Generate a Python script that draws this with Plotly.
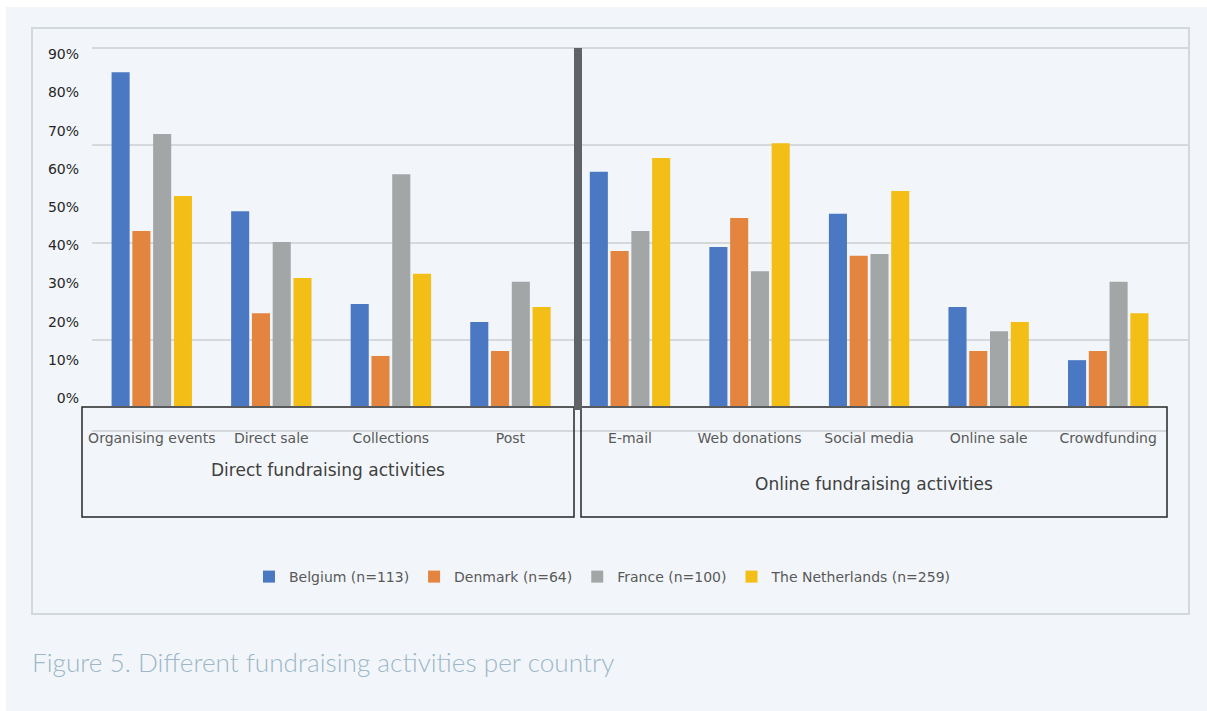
import plotly.graph_objects as go

# Survey shares (%) of organisations using each fundraising activity
activities = ["Organising events", "Direct sale", "Collections", "Post",
              "E-mail", "Web donations", "Social media", "Online sale", "Crowdfunding"]
belgium = [87.4, 51.0, 26.7, 22.0, 61.3, 41.6, 50.3, 25.9, 12.0]
denmark = [45.8, 24.3, 13.1, 14.4, 40.6, 49.2, 39.3, 14.4, 14.4]
france = [71.2, 42.9, 60.7, 32.5, 45.8, 35.3, 39.8, 19.6, 32.5]
netherlands = [55.0, 33.5, 34.6, 25.9, 64.9, 68.8, 56.3, 22.0, 24.3]

series_names = ["Belgium (n=113)", "Denmark (n=64)", "France (n=100)", "The Netherlands (n=259)"]
series_values = [belgium, denmark, france, netherlands]
series_colors = ["#4a78c2", "#e3843f", "#a3a6a7", "#f3be15"]

tick_values = [0, 10, 20, 30, 40, 50, 60, 70, 80, 90]
tick_labels = [f"{v}%" for v in tick_values]

group_titles = ["Direct fundraising activities", "Online fundraising activities"]

W, H = 1207, 711
PL, PR, PT, PB = 92, 1188, 46, 406  # plot area in pixels
PX_PER_PCT = 3.82                   # vertical scale of the bars


def px(x):
    return (x - PL) / (PR - PL)


def py(y):
    return (PB - y) / (PB - PT)


# horizontal grid: every 20 units of a secondary scale, top line at y=47.5
GRID_BOTTOM = 6.5
GRID_SCALE = (PB - 47.5) / (80 - GRID_BOTTOM)
GRID_TOP = GRID_BOTTOM + (PB - PT) / GRID_SCALE

BG = "#f2f6fa"
TEXT_FONT = "DejaVu Sans"

fig = go.Figure()
for name, vals, col in zip(series_names, series_values, series_colors):
    fig.add_trace(go.Bar(x=activities, y=vals, name=name, marker_color=col,
                         marker_line_width=0))

# empty trace carrying the secondary axis used for the horizontal grid
fig.add_trace(go.Scatter(x=[], y=[], yaxis="y2", showlegend=False, hoverinfo="skip"))

shapes = []
# white edge strips of the page
shapes.append(dict(type="rect", xref="paper", yref="paper", x0=px(0), x1=px(W),
                   y0=py(0), y1=py(7), fillcolor="white", line_width=0, layer="below"))
shapes.append(dict(type="rect", xref="paper", yref="paper", x0=px(0), x1=px(6),
                   y0=py(0), y1=py(H), fillcolor="white", line_width=0, layer="below"))
# outer chart frame
shapes.append(dict(type="rect", xref="paper", yref="paper", x0=px(32), x1=px(1189),
                   y0=py(28), y1=py(614), line=dict(color="#d3d8dc", width=2),
                   fillcolor="rgba(0,0,0,0)", layer="below"))
# faint rule inside the category boxes
shapes.append(dict(type="line", xref="paper", yref="paper", x0=px(92), x1=px(1167),
                   y0=py(431), y1=py(431), line=dict(color="#d5d9dc", width=2), layer="below"))
# category group boxes
shapes.append(dict(type="rect", xref="paper", yref="paper", x0=px(82), x1=px(574),
                   y0=py(407), y1=py(517), line=dict(color="#262626", width=1.5)))
shapes.append(dict(type="rect", xref="paper", yref="paper", x0=px(581), x1=px(1167),
                   y0=py(407), y1=py(517), line=dict(color="#262626", width=1.5)))
# divider between direct and online activities
shapes.append(dict(type="rect", xref="paper", yref="paper", x0=px(574), x1=px(582),
                   y0=py(48), y1=py(410), fillcolor="#5f6367", line_width=0))

annotations = [
    dict(text=group_titles[0], xref="paper", yref="paper", x=px(328), y=py(470),
         showarrow=False, font=dict(family=TEXT_FONT, size=17, color="#404040"),
         xanchor="center", yanchor="middle"),
    dict(text=group_titles[1], xref="paper", yref="paper", x=px(874), y=py(484),
         showarrow=False, font=dict(family=TEXT_FONT, size=17, color="#404040"),
         xanchor="center", yanchor="middle"),
    dict(text="Figure 5. Different fundraising activities per country", xref="paper",
         yref="paper", x=px(30), y=py(662), showarrow=False, xanchor="left",
         yanchor="middle", font=dict(family="Lato", size=26.2, color="#9db6c8", weight=300)),
]

fig.update_layout(
    width=W, height=H,
    margin=dict(l=PL, r=W - PR, t=PT, b=H - PB, pad=0),
    paper_bgcolor=BG, plot_bgcolor=BG,
    barmode="group", bargap=0.305, bargroupgap=0.13,
    showlegend=True,
    legend=dict(orientation="h", x=px(603), y=py(577), xanchor="center",
                yanchor="middle", font=dict(family=TEXT_FONT, size=14, color="#595959"),
                bgcolor="rgba(0,0,0,0)", traceorder="normal"),
    xaxis=dict(type="category", range=[-0.5, 8.5 + 20 / 119.5], showgrid=False,
               zeroline=False, showline=False, ticks="", ticklabelstandoff=22,
               tickfont=dict(family=TEXT_FONT, size=14, color="#595959")),
    yaxis=dict(range=[0, (PB - PT) / PX_PER_PCT], tickvals=tick_values, ticktext=tick_labels,
               showgrid=False, zeroline=False, showline=False, ticks="",
               ticklabelshift=-8, ticklabelstandoff=12,
               tickfont=dict(family=TEXT_FONT, size=14, color="#262626")),
    yaxis2=dict(overlaying="y", range=[GRID_BOTTOM, GRID_TOP], tickvals=[20, 40, 60, 80],
                showgrid=True, gridcolor="#d5d9dc", gridwidth=2, zeroline=False,
                showticklabels=False, showline=False, ticks=""),
    shapes=shapes,
    annotations=annotations,
)

fig.write_html("out.html")
